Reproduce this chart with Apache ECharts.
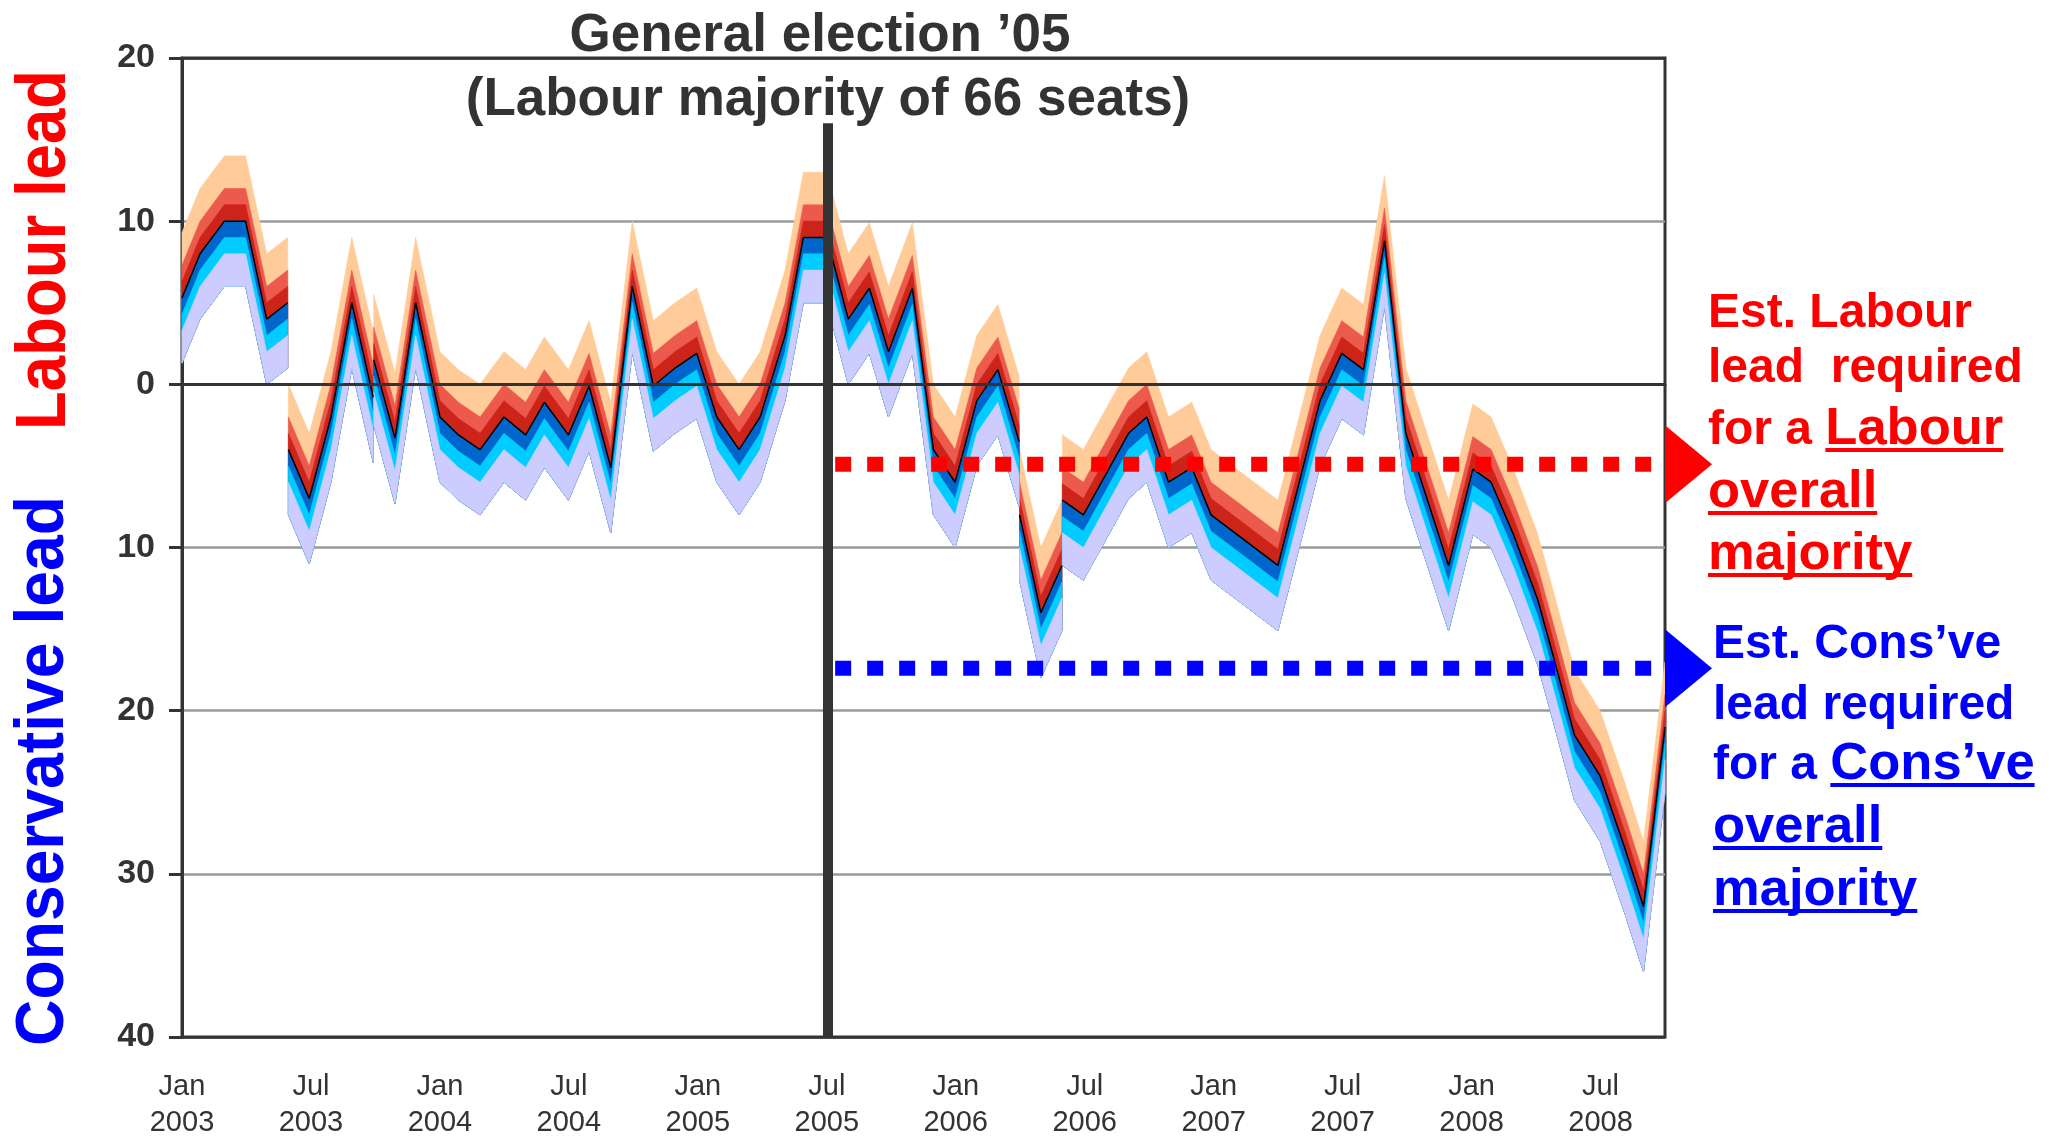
<!DOCTYPE html>
<html>
<head>
<meta charset="utf-8">
<script src="https://cdn.jsdelivr.net/npm/echarts@6/dist/echarts.min.js"></script>
<style>
html,body{margin:0;padding:0;background:#ffffff;}
#chart{width:2060px;height:1138px;}
</style>
</head>
<body>
<div id="chart"></div>
<script>
// ---- DATA ----
// poll position in months after Jan 2003; a null lead marks a break in the fan
const pollMonth = [0, 0.84, 1.97, 2.96, 3.94, 4.92, 4.93, 4.95, 5.92, 6.93, 7.9, 8.9, 8.91, 8.92, 9.91, 10.87,
  12.0, 12.86, 13.87, 14.98, 15.99, 16.86, 17.98, 18.94, 19.95, 20.95, 21.93, 22.94, 23.95, 24.88, 25.92,
  26.9, 28.06, 28.91, 30.0, 31.0, 31.98, 32.87, 33.98, 34.96, 35.97, 36.98, 37.96, 38.95, 38.96, 38.97,
  39.96, 40.94, 40.95, 40.96, 41.94, 44.04, 44.89, 45.9, 46.98, 47.88, 50.99, 52.95, 53.96, 54.97, 55.95,
  56.94, 58.93, 60.06, 60.91, 61.95, 63.08, 63.81, 64.79, 65.98, 67.15, 68.0, 69.0];
// central estimate of the Labour lead (negative = Conservative lead)
const labourLead = [5.3, 8, 10, 10, 4, 5, null, -4, -7, -2, 5, -0.8, null, 1.5, -3.3, 5,
  -2, -3.1, -4, -2, -3.1, -1.1, -3.1, -0.1, -5.1, 6, -0.1, 1, 1.9, -2, -4,
  -2, 3, 9, 9, 4, 5.9, 2, 5.9, -4, -6, -1, 0.9, -3.5, null, -8,
  -14, -11.1, null, -7.1, -8, -3, -2, -6, -5.1, -8, -11.1, -1, 1.9, 0.9, 8.8,
  -3, -11.1, -5.2, -6, -9.2, -13.2, -16.7, -21.5, -24, -28.5, -32, -21];
// fan bands, bottom to top (width in points of lead)
const bandNames = ['outer low', 'mid low', 'inner low', 'inner high', 'mid high', 'outer high'];
const bandWidths = [2, 1, 1, 1, 1, 2];
const bandColors = ['#CCCCFF', '#00CCFF', '#0066CC', '#CC2418', '#EC5A4E', '#FFCC99'];
const fanLowerOffset = -4;
// axis ticks
const yTickValues = [-40, -30, -20, -10, 0, 10, 20];
const xTickMonths = [0, 6, 12, 18, 24, 30, 36, 42, 48, 54, 60, 66];
const xTickLabels = ['Jan\n2003', 'Jul\n2003', 'Jan\n2004', 'Jul\n2004', 'Jan\n2005', 'Jul\n2005',
  'Jan\n2006', 'Jul\n2006', 'Jan\n2007', 'Jul\n2007', 'Jan\n2008', 'Jul\n2008'];
// reference lines
const electionMonth = 30.05;
const electionLineTop = 16;
const labourMajorityLead = -4.9;
const consMajorityLead = -17.4;
const thresholdSpan = [30.39, 68.36];

// ---- helpers ----
const FONT = '"Liberation Sans", Arial, Helvetica, sans-serif';
const measureCtx = document.createElement('canvas').getContext('2d');
function textWidth(str, font) { measureCtx.font = font; return measureCtx.measureText(str).width; }

const bandTops = [];
{ let acc = fanLowerOffset; for (let k = 0; k < bandWidths.length; k++) { acc += bandWidths[k]; bandTops.push(acc); } }

function segments() {
  const segs = []; let cur = [];
  for (let i = 0; i < pollMonth.length; i++) {
    if (labourLead[i] === null) { if (cur.length) segs.push(cur); cur = []; }
    else cur.push(i);
  }
  if (cur.length) segs.push(cur);
  return segs;
}
const SEGS = segments();

const drawOrder = [5, 4, 3, 2, 1, 0];
function renderBand(params, api) {
  const k = drawOrder[params.dataIndex];
  const children = [];
  SEGS.forEach(seg => {
    const pts = [];
    seg.forEach(i => pts.push(api.coord([pollMonth[i], labourLead[i] + bandTops[k]])));
    for (let j = seg.length - 1; j >= 0; j--) {
      const i = seg[j];
      pts.push(api.coord([pollMonth[i], labourLead[i] + fanLowerOffset]));
    }
    children.push({ type: 'polygon', shape: { points: pts }, style: { fill: bandColors[k], stroke: bandColors[k], lineWidth: 0.6 } });
  });
  return { type: 'group', children };
}

// ---- text annotations ----
const TEXT_SHIFT = 0.25;
function baselineText(str, x, baseline, size, color, align) {
  return {
    type: 'text', x: x, y: baseline - TEXT_SHIFT * size, z: 100,
    style: { text: str, font: 'bold ' + size + 'px ' + FONT, fill: color, align: align || 'left', verticalAlign: 'middle' }
  };
}
function underline(x, baseline, width, color) {
  return { type: 'rect', z: 100, shape: { x: x, y: baseline + 5, width: width, height: 4 }, style: { fill: color } };
}
function annotationBlock(lines, x, baselines, size, ulSize, color) {
  const out = [];
  const font = 'bold ' + size + 'px ' + FONT;
  const ulFont = 'bold ' + ulSize + 'px ' + FONT;
  lines.forEach((ln, idx) => {
    if (ln.pre) out.push(baselineText(ln.pre, x, baselines[idx], size, color));
    if (ln.ul) {
      const x0 = x + (ln.pre ? textWidth(ln.pre, font) : 0);
      out.push(baselineText(ln.ul, x0, baselines[idx], ulSize, color));
      out.push(underline(x0, baselines[idx], textWidth(ln.ul, ulFont), color));
    }
  });
  return out;
}

const graphics = [];
// title
graphics.push(baselineText('General election \u201905', 820, 50, 53, '#333333', 'center'));
graphics.push(baselineText('(Labour majority of 66 seats)', 828, 114, 53, '#333333', 'center'));
// left axis titles
graphics.push({ type: 'text', x: 45, y: 250, rotation: Math.PI / 2, scaleX: 0.895, z: 100,
  style: { text: 'Labour lead', font: 'bold 71px ' + FONT, fill: '#FF0000', align: 'center', verticalAlign: 'middle' } });
graphics.push({ type: 'text', x: 44, y: 771, rotation: Math.PI / 2, scaleX: 0.945, z: 100,
  style: { text: 'Conservative lead', font: 'bold 68px ' + FONT, fill: '#0000FF', align: 'center', verticalAlign: 'middle' } });
// right annotations
graphics.push(...annotationBlock([
  { pre: 'Est. Labour', ul: '' },
  { pre: 'lead  required', ul: '' },
  { pre: 'for a ', ul: 'Labour' },
  { pre: '', ul: 'overall' },
  { pre: '', ul: 'majority' }
], 1708, [326, 381, 443, 506, 568], 48, 52.5, '#FF0000'));
graphics.push(...annotationBlock([
  { pre: 'Est. Cons\u2019ve', ul: '' },
  { pre: 'lead required', ul: '' },
  { pre: 'for a ', ul: 'Cons\u2019ve' },
  { pre: '', ul: 'overall' },
  { pre: '', ul: 'majority' }
], 1713, [657, 718, 778, 841, 904], 48, 52.5, '#0000FF'));

const arrowPath = 'path://M0,0L10,8L0,16Z';

const option = {
  animation: false,
  backgroundColor: '#ffffff',
  grid: { left: 182, right: 395, top: 58, bottom: 101, show: true, borderColor: '#333333', borderWidth: 3,
    backgroundColor: 'transparent', containLabel: false, outerBoundsMode: 'none' },
  xAxis: {
    type: 'value', min: 0, max: 69, interval: 6,
    axisLine: { show: true, lineStyle: { color: '#333333', width: 3 } },
    axisTick: { show: false },
    splitLine: { show: false },
    axisLabel: {
      show: true, margin: 32, color: '#333333', fontSize: 29, lineHeight: 36, fontFamily: FONT,
      showMinLabel: true, showMaxLabel: false, hideOverlap: false,
      formatter: v => { const i = xTickMonths.indexOf(v); return i >= 0 ? xTickLabels[i] : ''; }
    }
  },
  yAxis: {
    type: 'value', min: -40, max: 20, interval: 10,
    axisLine: { show: true, lineStyle: { color: '#333333', width: 3 } },
    axisTick: { show: true, length: 13, lineStyle: { color: '#333333', width: 3 } },
    splitLine: { show: true, lineStyle: { color: ['#333333', '#9a9a9a', '#9a9a9a', '#9a9a9a', '#333333', '#9a9a9a', '#333333'], width: 2.5 } },
    axisLabel: { margin: 27, color: '#333333', fontSize: 34, fontWeight: 'bold', fontFamily: FONT,
      formatter: v => String(Math.abs(v)) }
  },
  graphic: graphics,
  series: [
    {
      name: 'fan', type: 'custom', coordinateSystem: 'cartesian2d', z: 2, silent: true,
      data: drawOrder.map((k, i) => [i, 0]),
      renderItem: renderBand
    },
    {
      name: 'central estimate', type: 'line', z: 3, silent: true, symbol: 'none', connectNulls: false,
      data: pollMonth.map((m, i) => [m, labourLead[i] === null ? '-' : labourLead[i]]),
      lineStyle: { color: '#000000', width: 1.5 }
    },
    {
      name: 'Labour majority threshold', type: 'line', z: 4, silent: true, symbol: 'none',
      data: thresholdSpan.map(m => [m, labourMajorityLead]),
      lineStyle: { color: '#FF0000', width: 15, type: [16, 16], cap: 'butt' },
      markPoint: { silent: true, label: { show: false }, data: [{ coord: [69, labourMajorityLead], symbol: arrowPath, symbolSize: [47, 78], symbolKeepAspect: false, symbolOffset: ['50%', 0], itemStyle: { color: '#FF0000' } }] }
    },
    {
      name: 'Conservative majority threshold', type: 'line', z: 4, silent: true, symbol: 'none',
      data: thresholdSpan.map(m => [m, consMajorityLead]),
      lineStyle: { color: '#0000FF', width: 15, type: [16, 16], cap: 'butt' },
      markPoint: { silent: true, label: { show: false }, data: [{ coord: [69, consMajorityLead], symbol: arrowPath, symbolSize: [47, 78], symbolKeepAspect: false, symbolOffset: ['50%', 0], itemStyle: { color: '#0000FF' } }] }
    },
    {
      name: 'reference lines', type: 'line', z: 5, silent: true, data: [],
      markLine: {
        silent: true, symbol: ['none', 'none'], label: { show: false }, animation: false,
        data: [
          { yAxis: 0, lineStyle: { color: '#333333', width: 3, type: 'solid' } },
          [{ coord: [electionMonth, electionLineTop], lineStyle: { color: '#333333', width: 10, type: 'solid' } }, { coord: [electionMonth, -40] }]
        ]
      }
    }
  ]
};
const chart = echarts.init(document.getElementById('chart'), null, { renderer: 'canvas', width: 2060, height: 1138 });
chart.setOption(option);
</script>
</body>
</html>
